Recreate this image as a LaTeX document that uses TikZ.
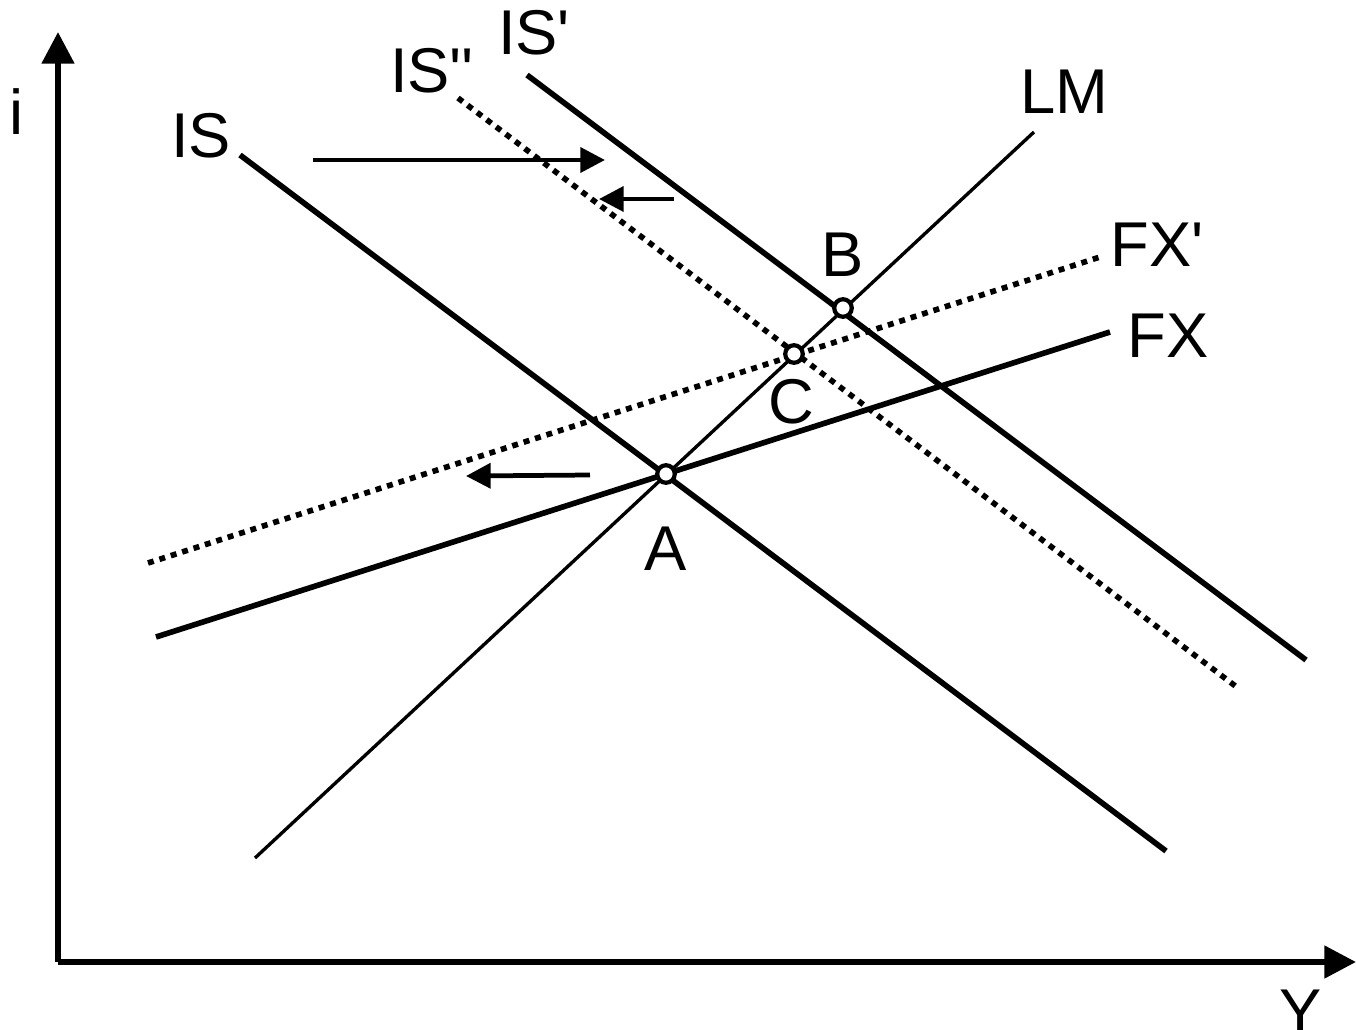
\documentclass[tikz,border=0pt]{standalone}
\usepackage{fontspec}
\setmainfont{Liberation Sans}
\usetikzlibrary{arrows.meta}

\tikzset{
  curve/.style={line width=1.6pt},
  thincurve/.style={line width=0.95pt},
  dotcurve/.style={line width=1.6pt, dash pattern=on 1.7pt off 1.7pt},
  shiftarrow/.style={line width=1.35pt, -{Triangle[length=7pt,width=7pt]}},
  eqpt/.style={circle, draw, line width=1.2pt, fill=white, inner sep=0pt, minimum size=5pt},
  lbl/.style={font=\fontsize{18}{18}\selectfont, inner sep=0pt}
}

\begin{document}
\begin{tikzpicture}[x=0.01cm,y=-0.01cm]

\useasboundingbox (0,0) rectangle (1356,1030);

% Ejes
\coordinate (O) at (58,962);
\coordinate (itop) at (58,32);
\coordinate (Yend) at (1356,962);
\draw[line width=1.7pt, -{Triangle[length=9pt,width=9pt]}] (O) -- (itop);
\draw[line width=1.7pt, -{Triangle[length=9pt,width=9pt]}] (O) -- (Yend);
\node[lbl] (i) at (17,112) {i};
\node[lbl] (Y) at (1301,1012) {Y};

% Curvas IS
\coordinate (IS1) at (240,155);   \coordinate (IS2) at (1166,851);
\coordinate (ISp1) at (527,75);   \coordinate (ISp2) at (1306,660);
\coordinate (ISpp1) at (458,98);  \coordinate (ISpp2) at (1238,688);
\draw[curve] (IS1) -- (IS2);
\draw[curve] (ISp1) -- (ISp2);
\draw[dotcurve] (ISpp1) -- (ISpp2);

% Curva LM
\coordinate (LM1) at (255,858);   \coordinate (LM2) at (1034,132);
\draw[thincurve] (LM1) -- (LM2);

% Curvas FX
\coordinate (FX1) at (156,637);   \coordinate (FX2) at (1110,332);
\coordinate (FXp1) at (148,563);  \coordinate (FXp2) at (1100,257);
\draw[curve] (FX1) -- (FX2);
\draw[dotcurve] (FXp1) -- (FXp2);

% Desplazamientos
\coordinate (s1a) at (313,160);   \coordinate (s1b) at (605,160);
\coordinate (s2a) at (674,199);   \coordinate (s2b) at (599,199);
\coordinate (s3a) at (590,475);   \coordinate (s3b) at (466,476);
\draw[shiftarrow] (s1a) -- (s1b);
\draw[shiftarrow] (s2a) -- (s2b);
\draw[shiftarrow] (s3a) -- (s3b);

% Equilibrios
\node[eqpt] (A) at (666,474) {};
\node[eqpt] (B) at (843,308) {};
\node[eqpt] (C) at (794,354) {};

% Etiquetas
\node[lbl] (lIS) at (201,136) {IS};
\node[lbl] (lISp) at (534,33) {IS\textquotesingle};
\node[lbl] (lISpp) at (432,71) {IS\textquotesingle\textquotesingle};
\node[lbl] (lLM) at (1064,92) {LM};
\node[lbl] (lFXp) at (1157,245) {FX\textquotesingle};
\node[lbl] (lFX) at (1168,336) {FX};
\node[lbl] (lA) at (666,549) {A};
\node[lbl] (lB) at (843,255) {B};
\node[lbl] (lC) at (791,402) {C};

\end{tikzpicture}
\end{document}
